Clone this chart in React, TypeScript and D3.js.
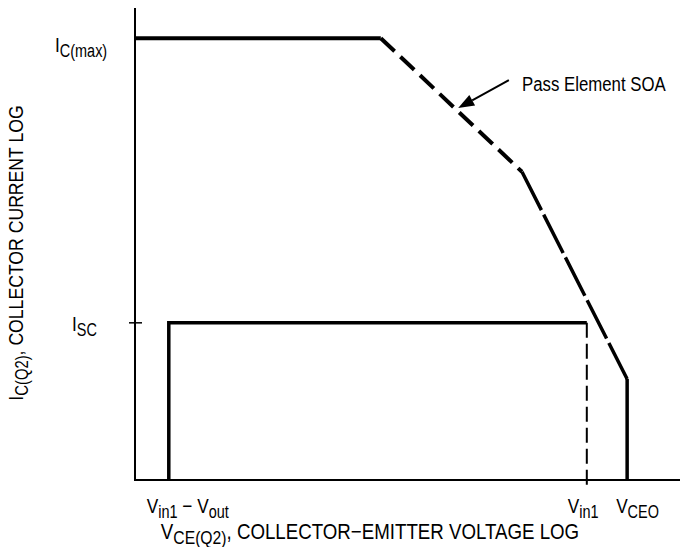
import React, { useEffect, useRef } from 'react'
import * as d3 from 'd3'

// qualitative chart: both axes are log decades in arbitrary units
const xDomain = [0, 10]
const yDomain = [0, 10]

// pass element SOA boundary, [log V, log I]
const soaFlat = [[0, 9.36], [4.51, 9.36]]
const soaDash1 = [[4.51, 9.36], [7.1, 6.53]]
const soaDash2 = [[7.1, 6.53], [9.03, 2.14]]
const soaDrop = [[9.03, 2.14], [9.03, 0]]

// regulator operating box
const iscLevel = 3.33
const vDiff = 0.62
const vIn1 = 8.29
const vCeo = 9.03

// annotation arrow, tail -> head
const arrowFrom = [6.86, 8.47]
const arrowTo = [5.93, 7.88]

const FONT = '"Liberation Sans", Arial, Helvetica, sans-serif'

export default function App() {
  const ref = useRef(null)

  useEffect(() => {
    const svg = d3.select(ref.current)
    svg.selectAll('*').remove()

    const x = d3.scaleLinear().domain(xDomain).range([135, 680])
    const y = d3.scaleLinear().domain(yDomain).range([480, 8])
    const line = d3.line().x(d => x(d[0])).y(d => y(d[1]))

    // axes (no ticks, just the frame lines)
    svg.append('line')
      .attr('x1', x(0)).attr('x2', x(0))
      .attr('y1', y(10)).attr('y2', y(0))
      .attr('stroke', '#000').attr('stroke-width', 2)
    svg.append('line')
      .attr('x1', x(0) - 1).attr('x2', x(10))
      .attr('y1', y(0)).attr('y2', y(0))
      .attr('stroke', '#000').attr('stroke-width', 2)

    // Isc tick
    svg.append('line')
      .attr('x1', x(0) - 6).attr('x2', x(0) + 7)
      .attr('y1', y(iscLevel)).attr('y2', y(iscLevel))
      .attr('stroke', '#000').attr('stroke-width', 1.5)

    // SOA curve
    const soa = svg.append('g').attr('fill', 'none').attr('stroke', '#000')
      .attr('stroke-width', 4)
    soa.append('path').attr('d', line(soaFlat))
    soa.append('path').attr('d', line(soaDash1)).attr('stroke-dasharray', '19,8')
    soa.append('path').attr('d', line(soaDash2)).attr('stroke-dasharray', '43,5')
      .attr('stroke-width', 3.5)
    soa.append('path').attr('d', line(soaDrop)).attr('stroke-width', 3.5)

    // operating box
    svg.append('path')
      .attr('d', line([[vDiff, 0], [vDiff, iscLevel], [vIn1, iscLevel]]))
      .attr('fill', 'none').attr('stroke', '#000').attr('stroke-width', 3.5)
      .attr('stroke-linejoin', 'miter')
    svg.append('line')
      .attr('x1', x(vIn1)).attr('x2', x(vIn1))
      .attr('y1', y(iscLevel)).attr('y2', y(0) + 7)
      .attr('stroke', '#000').attr('stroke-width', 2)
      .attr('stroke-dasharray', '15,6')

    // arrow
    const ax0 = x(arrowFrom[0]), ay0 = y(arrowFrom[1])
    const ax1 = x(arrowTo[0]), ay1 = y(arrowTo[1])
    const ang = Math.atan2(ay1 - ay0, ax1 - ax0)
    const hl = 16, hw = 6
    const bx = ax1 - hl * Math.cos(ang), by = ay1 - hl * Math.sin(ang)
    svg.append('line')
      .attr('x1', ax0).attr('y1', ay0).attr('x2', bx).attr('y2', by)
      .attr('stroke', '#000').attr('stroke-width', 2)
    svg.append('polygon')
      .attr('points', [
        [ax1, ay1],
        [bx + hw * Math.sin(ang), by - hw * Math.cos(ang)],
        [bx - hw * Math.sin(ang), by + hw * Math.cos(ang)]
      ].map(p => p.join(',')).join(' '))
      .attr('fill', '#000')

    // text with subscripts: parts = [[text, isSub], ...]
    function label(px, py, parts, opts: any = {}) {
      const size = opts.size || 21
      const sx = opts.sx || 0.82
      const t = svg.append('text')
        .attr('transform', `translate(${px},${py}) rotate(${opts.rotate || 0}) scale(${sx},1)`)
        .attr('text-anchor', opts.anchor || 'start')
        .attr('font-family', FONT)
        .attr('font-size', size)
        .attr('fill', '#000')
      let down = false
      parts.forEach(([s, sub]) => {
        const ts = t.append('tspan').text(s)
        if (sub && !down) { ts.attr('dy', 4.5).attr('font-size', size * 0.84); down = true }
        else if (!sub && down) { ts.attr('dy', -4.5); down = false }
      })
    }

    label(55, 52, [['I'], ['C(max)', 1]])
    label(72, 331, [['I'], ['SC', 1]])
    label(522, 91, [['Pass Element SOA']], { sx: 0.8 })
    label(x(vDiff) - 22, 513, [['V'], ['in1', 1], [' \u2212 V'], ['out', 1]])
    label(x(vIn1) - 19, 513, [['V'], ['in1', 1]])
    label(x(vCeo) - 11, 513, [['V'], ['CEO', 1]])
    label(370, 539, [['V'], ['CE(Q2)', 1], [', COLLECTOR\u2212EMITTER VOLTAGE LOG']],
      { anchor: 'middle', size: 22, sx: 0.85 })
    label(23, 253, [['I'], ['C(Q2)', 1], [',  COLLECTOR CURRENT LOG']],
      { anchor: 'middle', rotate: -90, sx: 0.84 })
  }, [])

  return (
    <div>
      <style>{'body{margin:0;background:#fff}'}</style>
      <svg ref={ref} width={680} height={547} style={{ display: 'block' }} />
    </div>
  )
}
